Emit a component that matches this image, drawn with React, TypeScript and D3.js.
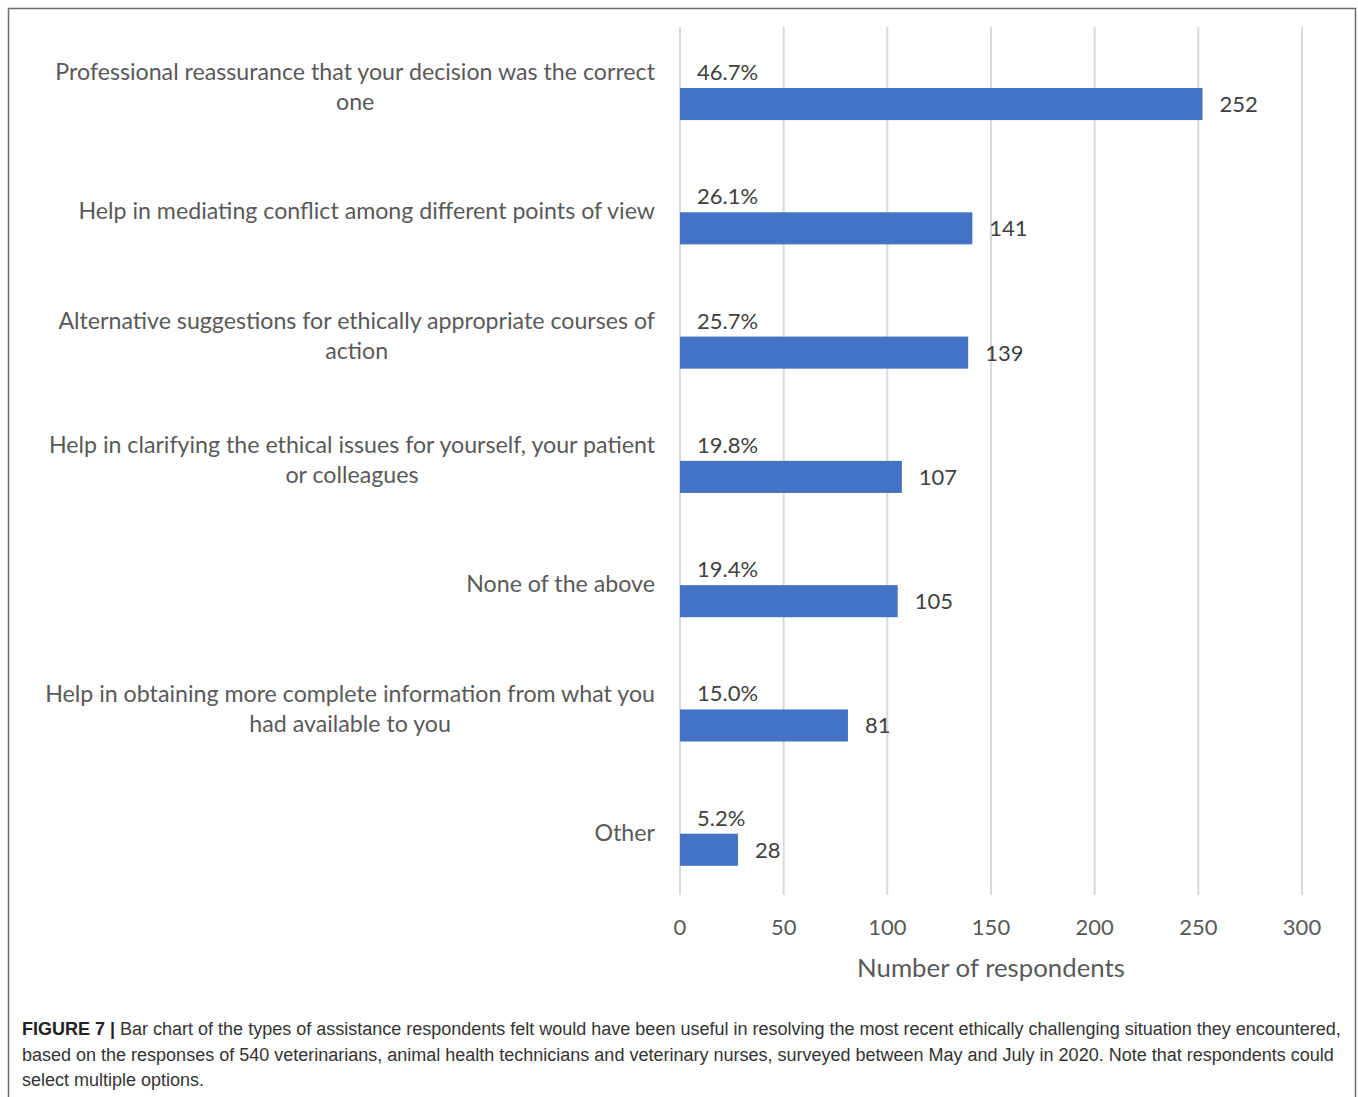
import React, { useEffect, useRef } from "react";
import * as d3 from "d3";

const categories: string[][] = [
  ["Professional reassurance that your decision was the correct", "one"],
  ["Help in mediating conflict among different points of view"],
  ["Alternative suggestions for ethically appropriate courses of", "action"],
  ["Help in clarifying the ethical issues for yourself, your patient", "or colleagues"],
  ["None of the above"],
  ["Help in obtaining more complete information from what you", "had available to you"],
  ["Other"],
];
const counts: number[] = [252, 141, 139, 107, 105, 81, 28];
const percents: string[] = ["46.7%", "26.1%", "25.7%", "19.8%", "19.4%", "15.0%", "5.2%"];
const ticks: number[] = [0, 50, 100, 150, 200, 250, 300];
const axisTitle = "Number of respondents";
const captionBold = "FIGURE 7 |";
const captionLines: string[] = [
  " Bar chart of the types of assistance respondents felt would have been useful in resolving the most recent ethically challenging situation they encountered,",
  "based on the responses of 540 veterinarians, animal health technicians and veterinary nurses, surveyed between May and July in 2020. Note that respondents could",
  "select multiple options.",
];

const W = 1358;
const H = 1097;
const FONT = "Lato, 'Open Sans', sans-serif";
const TEXT = "#595959";

export default function App() {
  const ref = useRef<SVGSVGElement | null>(null);

  useEffect(() => {
    const svg = d3.select(ref.current);
    svg.selectAll("*").remove();

    // frame
    svg.append("path")
      .attr("d", `M8.5,${H} L8.5,8.5 L1355.5,8.5 L1355.5,${H}`)
      .attr("fill", "none").attr("stroke", "#6b6b6b").attr("stroke-width", 1.5);

    const x = d3.scaleLinear().domain([0, 300]).range([680, 1302]);
    const y = d3.scaleBand<number>().domain(d3.range(categories.length)).range([25, 895]);
    const step = y.step();
    const barTop = (i: number) => (y(i) as number) + step * 0.507;
    const barH = step * 0.258;

    // gridlines
    svg.append("g").selectAll("line").data(ticks).join("line")
      .attr("x1", (d) => x(d)).attr("x2", (d) => x(d))
      .attr("y1", 27).attr("y2", 895)
      .attr("stroke", "#d9d9d9").attr("stroke-width", 2);

    // bars
    svg.append("g").selectAll("rect").data(counts).join("rect")
      .attr("x", x(0)).attr("y", (_, i) => barTop(i))
      .attr("width", (d) => x(d) - x(0)).attr("height", barH)
      .attr("fill", "#4472C4");

    // value labels
    svg.append("g").selectAll("text").data(counts).join("text")
      .attr("x", (d) => x(d) + 17).attr("y", (_, i) => barTop(i) + barH / 2 + 8)
      .attr("font-family", FONT).attr("font-size", 22).attr("fill", "#404040")
      .text((d) => String(d));

    // percent labels
    svg.append("g").selectAll("text").data(percents).join("text")
      .attr("x", x(0) + 17).attr("y", (_, i) => barTop(i) - 8)
      .attr("font-family", FONT).attr("font-size", 22).attr("fill", "#404040")
      .text((d) => d);

    // category labels
    const labelRight = 655;
    const lg = svg.append("g");
    categories.forEach((lines, i) => {
      const cy = (y(i) as number) + step / 2;
      const texts = lines.map((ln, j) =>
        lg.append("text")
          .attr("font-family", FONT).attr("font-size", 23.2).attr("fill", TEXT)
          .attr("y", cy + (j - (lines.length - 1) / 2) * 30 + 8)
          .text(ln)
      );
      const widths = texts.map((t) => (t.node() as SVGTextElement).getComputedTextLength());
      const maxW = Math.max(...widths);
      texts.forEach((t) => t.attr("text-anchor", "middle").attr("x", labelRight - maxW / 2));
    });

    // tick labels
    svg.append("g").selectAll("text").data(ticks).join("text")
      .attr("x", (d) => x(d)).attr("y", 935)
      .attr("text-anchor", "middle")
      .attr("font-family", FONT).attr("font-size", 22).attr("fill", TEXT)
      .text((d) => String(d));

    svg.append("text")
      .attr("x", (x(0) + x(300)) / 2).attr("y", 977)
      .attr("text-anchor", "middle")
      .attr("font-family", FONT).attr("font-size", 25.8).attr("fill", TEXT)
      .text(axisTitle);

    // caption
    const cap = svg.append("g").attr("font-family", "'Liberation Sans', Arial, sans-serif")
      .attr("font-size", 18).attr("fill", "#333");
    captionLines.forEach((ln, i) => {
      const t = cap.append("text").attr("x", 22).attr("y", 1035 + i * 25.5);
      if (i === 0) {
        t.append("tspan").attr("font-weight", "bold").attr("fill", "#222").text(captionBold);
      }
      t.append("tspan").text(ln);
    });
  }, []);

  return (
    <svg
      ref={ref}
      width={W}
      height={H}
      style={{ position: "absolute", left: 0, top: 0, background: "#fff" }}
    />
  );
}
